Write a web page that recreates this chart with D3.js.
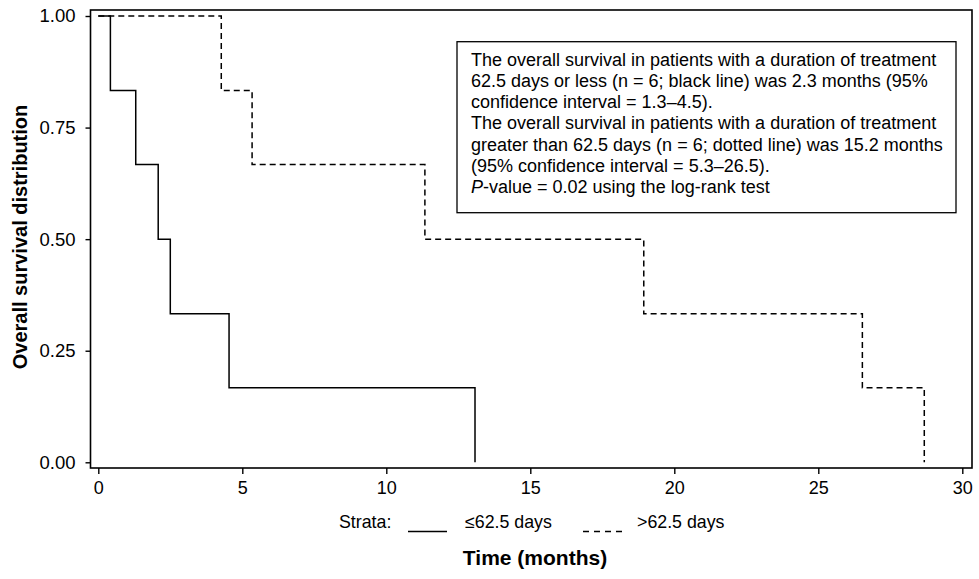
<!DOCTYPE html>
<html>
<head>
<meta charset="utf-8">
<script src="https://cdn.jsdelivr.net/npm/d3@7"></script>
<style>
  body { margin: 0; background: #fff; }
  svg { font-family: "Liberation Sans", Arial, sans-serif; }
  .tick text { fill: #000; }
</style>
</head>
<body>
<div id="chart"></div>
<script>

// frame constants
const FRAME_WIDTH = 979;
const FRAME_HEIGHT = 579;
const BOX = {left: 90.5, right: 972, top: 10, bottom: 468};

// survival data (time in months, survival proportion)
const SHORT_TIMES = [0, 0.42, 1.3, 2.08, 2.5, 4.54, 13.08];
const SHORT_SURV = [1, 0.833, 0.667, 0.5, 0.333, 0.167, 0];
const LONG_TIMES = [0, 4.27, 5.34, 11.34, 18.94, 26.53, 28.68];
const LONG_SURV = [1, 0.833, 0.667, 0.5, 0.333, 0.167, 0];

const X_TICKS = [0, 5, 10, 15, 20, 25, 30];
const Y_TICKS = [0, 0.25, 0.5, 0.75, 1];

const STRATA = ["≤62.5 days", ">62.5 days"];

const NOTE_LINES = [
  "The overall survival in patients with a duration of treatment",
  "62.5 days or less (n = 6; black line) was 2.3 months (95%",
  "confidence interval = 1.3–4.5).",
  "The overall survival in patients with a duration of treatment",
  "greater than 62.5 days (n = 6; dotted line) was 15.2 months",
  "(95% confidence interval = 5.3–26.5).",
  "P-value = 0.02 using the log-rank test"
];

const FRAME = d3.select("#chart")
  .append("svg")
    .attr("width", FRAME_WIDTH)
    .attr("height", FRAME_HEIGHT);

// scales
const X_SCALE = d3.scaleLinear()
  .domain([0, 30])
  .range([98.3, 962.3]);

const Y_SCALE = d3.scaleLinear()
  .domain([0, 1])
  .range([462.3, 16]);

// plot frame
FRAME.append("rect")
  .attr("x", BOX.left)
  .attr("y", BOX.top)
  .attr("width", BOX.right - BOX.left)
  .attr("height", BOX.bottom - BOX.top)
  .attr("fill", "none")
  .attr("stroke", "#000")
  .attr("stroke-width", 1.6);

// y axis
const yAxis = FRAME.append("g")
  .attr("transform", "translate(" + BOX.left + ",0)")
  .call(d3.axisLeft(Y_SCALE).tickValues(Y_TICKS)
        .tickFormat(d3.format(".2f")).tickSize(5).tickPadding(10).tickSizeOuter(0))
  .attr("font-size", "18.5px")
  .attr("font-family", null);
yAxis.select(".domain").remove();
yAxis.selectAll(".tick line").attr("stroke-width", 1.4);

// x axis
const xAxis = FRAME.append("g")
  .attr("transform", "translate(0," + BOX.bottom + ")")
  .call(d3.axisBottom(X_SCALE).tickValues(X_TICKS)
        .tickSize(6).tickPadding(7).tickSizeOuter(0))
  .attr("font-size", "18px")
  .attr("font-family", null);
xAxis.select(".domain").remove();
xAxis.selectAll(".tick line").attr("stroke-width", 1.4);

// survival step lines
const step = d3.line()
  .x((d) => { return X_SCALE(d[0]); })
  .y((d) => { return Y_SCALE(d[1]); })
  .curve(d3.curveStepAfter);

FRAME.append("path")
  .datum(d3.zip(SHORT_TIMES, SHORT_SURV))
  .attr("d", step)
  .attr("fill", "none")
  .attr("stroke", "#000")
  .attr("stroke-width", 1.5);

FRAME.append("path")
  .datum(d3.zip(LONG_TIMES, LONG_SURV))
  .attr("d", step)
  .attr("fill", "none")
  .attr("stroke", "#000")
  .attr("stroke-width", 1.5)
  .attr("stroke-dasharray", "6,4");

// annotation box
FRAME.append("rect")
  .attr("x", 457)
  .attr("y", 41.7)
  .attr("width", 956 - 457)
  .attr("height", 212.7 - 41.7)
  .attr("fill", "#fff")
  .attr("stroke", "#000")
  .attr("stroke-width", 1.3);

const note = FRAME.append("text")
  .attr("font-size", "18px")
  .attr("fill", "#000");

NOTE_LINES.forEach((line, i) => {
  const t = note.append("tspan")
    .attr("x", 471)
    .attr("y", 65.7 + i * 21.2);
  if (line.startsWith("P-value")) {
    t.append("tspan").attr("font-style", "italic").text("P");
    t.append("tspan").text(line.slice(1));
  } else {
    t.text(line);
  }
});

// legend
const LEGEND_FONT = "17.8px";

FRAME.append("text")
  .attr("x", 339)
  .attr("y", 528)
  .attr("font-size", LEGEND_FONT)
  .text("Strata:");

FRAME.append("line")
  .attr("x1", 408).attr("x2", 447)
  .attr("y1", 531.5).attr("y2", 531.5)
  .attr("stroke", "#000")
  .attr("stroke-width", 1.5);

FRAME.append("text")
  .attr("x", 465)
  .attr("y", 528)
  .attr("font-size", LEGEND_FONT)
  .text(STRATA[0]);

FRAME.append("line")
  .attr("x1", 583).attr("x2", 622)
  .attr("y1", 531.5).attr("y2", 531.5)
  .attr("stroke", "#000")
  .attr("stroke-width", 1.5)
  .attr("stroke-dasharray", "6,5");

FRAME.append("text")
  .attr("x", 637)
  .attr("y", 528)
  .attr("font-size", LEGEND_FONT)
  .text(STRATA[1]);

// axis titles
FRAME.append("text")
  .attr("x", 535)
  .attr("y", 565)
  .attr("text-anchor", "middle")
  .attr("font-size", "21px")
  .attr("font-weight", "bold")
  .text("Time (months)");

FRAME.append("text")
  .attr("transform", "translate(27,237) rotate(-90)")
  .attr("text-anchor", "middle")
  .attr("font-size", "20px")
  .attr("font-weight", "bold")
  .text("Overall survival distribution");

</script>
</body>
</html>
